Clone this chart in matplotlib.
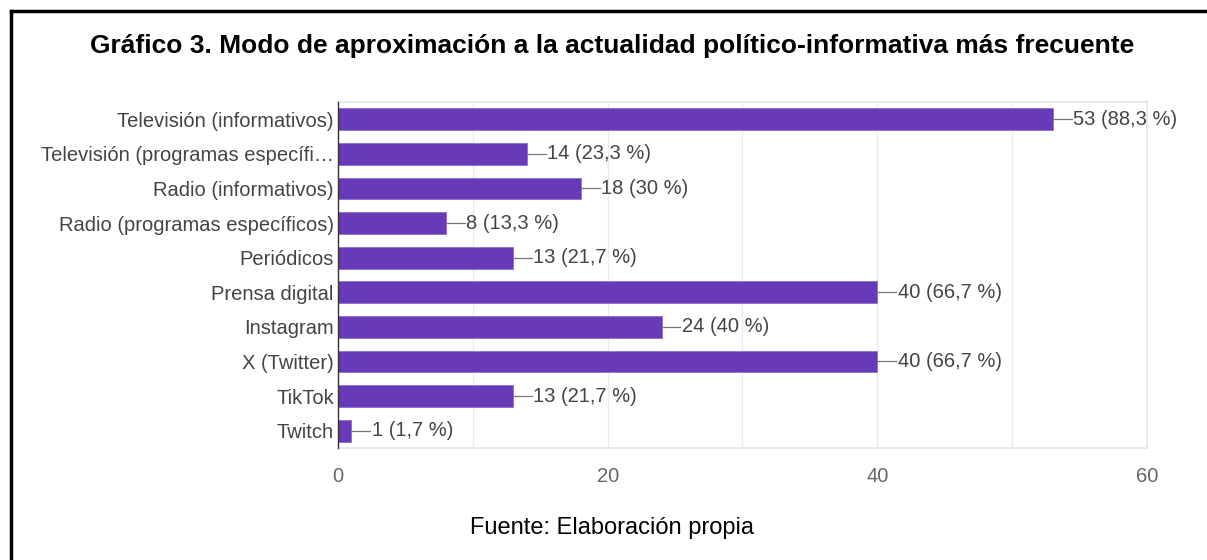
import matplotlib.pyplot as plt
from matplotlib.lines import Line2D

plt.rcParams['font.family'] = ['Liberation Sans', 'DejaVu Sans']

categorias = [
    'Televisión (informativos)',
    'Televisión (programas específi…',
    'Radio (informativos)',
    'Radio (programas específicos)',
    'Periódicos',
    'Prensa digital',
    'Instagram',
    'X (Twitter)',
    'TikTok',
    'Twitch',
]
valores = [53, 14, 18, 8, 13, 40, 24, 40, 13, 1]
porcentajes = ['88,3', '23,3', '30', '13,3', '21,7', '66,7', '40', '66,7', '21,7', '1,7']
ticks_x = [0, 20, 40, 60]

color_barra = '#673ab7'
color_texto = '#444444'

fig = plt.figure(figsize=(12.07, 5.6), dpi=100)
ax = fig.add_axes([0.280, 0.200, 0.6703, 0.6179])

pos = list(range(len(categorias)))
ax.barh(pos, valores, height=0.63, color=color_barra, edgecolor='#8e6fd0', linewidth=0.6, zorder=3)

# etiquetas con linea guia
for y, v, p in zip(pos, valores, porcentajes):
    ax.plot([v, v + 1.4], [y, y], color='#777777', lw=0.9, zorder=3, clip_on=False)
    ax.text(v + 1.5, y, f'{v} ({p} %)', va='center', ha='left', fontsize=14.5,
            color=color_texto, clip_on=False)

ax.set_xlim(0, 60)
ax.set_ylim(9.5, -0.5)
ax.set_yticks(pos)
ax.set_yticklabels(categorias, fontsize=14.5, color=color_texto)
ax.set_xticks(ticks_x)
ax.set_xticklabels([str(t) for t in ticks_x], fontsize=14.5, color='#666666')
ax.set_xticks(range(0, 61, 10), minor=True)
ax.grid(axis='x', which='both', color='#ebebeb', lw=1, zorder=0)
ax.tick_params(axis='both', which='both', length=0)
ax.tick_params(axis='y', pad=3)
ax.tick_params(axis='x', pad=14)

for lado in ['top', 'right', 'bottom']:
    ax.spines[lado].set_color('#e6e6e6')
    ax.spines[lado].set_linewidth(1.2)
ax.spines['left'].set_color('#333333')
ax.spines['left'].set_linewidth(1.0)
ax.spines['left'].set_zorder(4)

fig.text(0.507, 0.918, 'Gráfico 3. Modo de aproximación a la actualidad político-informativa más frecuente',
         ha='center', va='center', fontsize=19, fontweight='bold', color='black')
fig.text(0.507, 0.057, 'Fuente: Elaboración propia', ha='center', va='center', fontsize=17, color='black')

# marco negro (solo arriba e izquierda)
fig.add_artist(Line2D([11 / 1207, 1.0], [1 - 10.5 / 560, 1 - 10.5 / 560], transform=fig.transFigure,
                      color='black', lw=2.5))
fig.add_artist(Line2D([11 / 1207, 11 / 1207], [0.0, 1 - 10.5 / 560], transform=fig.transFigure,
                      color='black', lw=2.5))

fig.savefig('out.png', dpi=100)
